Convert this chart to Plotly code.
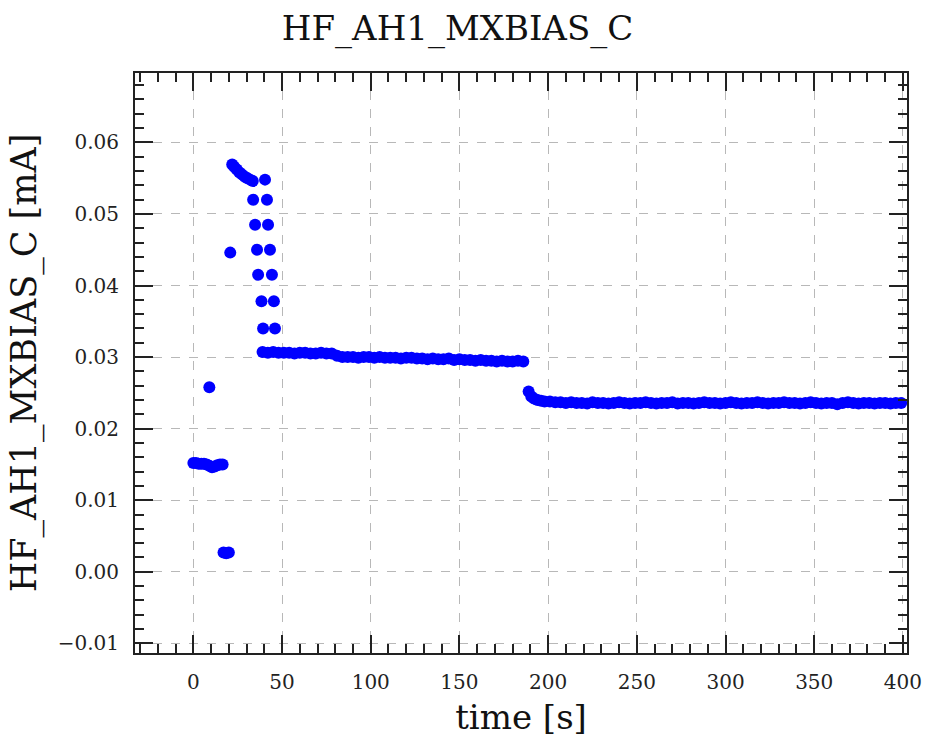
import plotly.graph_objects as go

# ---- data ----
t_init = [0, 1.5, 3, 4.5, 6, 7.5, 9, 10.5, 12, 13.5, 15, 16.5]
y_init = [0.0152, 0.0152, 0.0151, 0.0151, 0.0151, 0.0150, 0.0148, 0.0146, 0.0147, 0.0149, 0.0150, 0.0150]

t_spike = [9.0]
y_spike = [0.0258]

t_low = [17.0, 18.5, 20.0]
y_low = [0.0027, 0.0026, 0.0027]

t_rise = [20.8]
y_rise = [0.0446]

t_peak = [21.9, 23.0, 24.5, 26.0, 27.5, 29.0, 30.5, 32.0, 33.5]
y_peak = [0.0569, 0.0566, 0.0562, 0.0558, 0.0555, 0.0552, 0.0550, 0.0548, 0.0546]

t_colA = [33.7, 34.8, 35.9, 36.5, 38.4, 39.3]
y_colA = [0.0520, 0.0485, 0.0450, 0.0415, 0.0378, 0.0340]

t_colB = [40.4, 41.5, 42.1, 43.2, 44.3, 45.4, 46.0]
y_colB = [0.0548, 0.0520, 0.0485, 0.0450, 0.0415, 0.0378, 0.0340]

t_plat1 = [39, 42, 45, 48, 51, 54, 57, 60, 63, 66, 69, 72, 75, 78,
           81, 84, 87, 90, 93, 96, 99, 102, 105, 108, 111,
           114, 117, 120, 123, 126, 129, 132, 135, 138, 141, 144, 147, 150,
           153, 156, 159, 162, 165, 168, 171, 174, 177, 180, 183, 186]
y_plat1 = [0.0307, 0.0306, 0.0307, 0.0306, 0.0306, 0.0306, 0.0305, 0.0306, 0.0306, 0.0305, 0.0305, 0.0306, 0.0305, 0.0305,
           0.0302, 0.0300, 0.0300, 0.0300, 0.0299, 0.0300, 0.0300, 0.0299, 0.0300, 0.0299, 0.0299,
           0.0299, 0.0298, 0.0299, 0.0299, 0.0298, 0.0298, 0.0297, 0.0298, 0.0297, 0.0297, 0.0298, 0.0296, 0.0297,
           0.0296, 0.0296, 0.0295, 0.0296, 0.0295, 0.0295, 0.0294, 0.0295, 0.0294, 0.0294, 0.0295, 0.0294]

t_plat2 = [189, 190.5, 192, 194, 196, 198, 201,
           204, 207, 210, 213, 216, 219, 222, 225, 228, 231, 234, 237, 240, 243,
           246, 249, 252, 255, 258, 261, 264, 267, 270, 273, 276, 279, 282, 285,
           288, 291, 294, 297, 300, 303, 306, 309, 312, 315, 318, 321, 324, 327,
           330, 333, 336, 339, 342, 345, 348, 351, 354, 357, 360, 363, 366, 369,
           372, 375, 378, 381, 384, 387, 390, 393, 396, 399]
y_plat2 = [0.0252, 0.0245, 0.0242, 0.0240, 0.0239, 0.0238, 0.0238,
           0.0237, 0.0237, 0.0236, 0.0237, 0.0236,
           0.0236, 0.0235, 0.0237, 0.0236, 0.0236, 0.0235, 0.0236, 0.0237, 0.0236, 0.0235,
           0.0236, 0.0236, 0.0237, 0.0236, 0.0235, 0.0236, 0.0236, 0.0237, 0.0235, 0.0236,
           0.0236, 0.0235, 0.0236, 0.0237, 0.0236, 0.0236, 0.0235, 0.0236, 0.0237, 0.0236,
           0.0235, 0.0236, 0.0236, 0.0237, 0.0236, 0.0235, 0.0236, 0.0236, 0.0237, 0.0236,
           0.0236, 0.0235, 0.0236, 0.0237, 0.0236, 0.0235, 0.0236, 0.0236, 0.0234, 0.0236,
           0.0237, 0.0236, 0.0235, 0.0236, 0.0236, 0.0235, 0.0236, 0.0236, 0.0235, 0.0236,
           0.0236]

x_tickvals = [0, 50, 100, 150, 200, 250, 300, 350, 400]
y_tickvals = [-0.01, 0.00, 0.01, 0.02, 0.03, 0.04, 0.05, 0.06]

title_text = "HF_AH1_MXBIAS_C"
x_title = "time [s]"
y_title = "HF_AH1_MXBIAS_C [mA]"

t_all = t_init + t_spike + t_low + t_rise + t_peak + t_colA + t_colB + t_plat1 + t_plat2
y_all = y_init + y_spike + y_low + y_rise + y_peak + y_colA + y_colB + y_plat1 + y_plat2

FONT = "DejaVu Serif"
AX = "#222222"
GRID = "#b8b8b8"

fig = go.Figure()
fig.add_trace(go.Scatter(
    x=t_all, y=y_all, mode="markers",
    marker=dict(color="#0000ff", size=12, line=dict(width=0)),
    showlegend=False,
))

common = dict(
    showline=True, linecolor=AX, linewidth=2, mirror="allticks",
    ticks="inside", ticklen=18, tickwidth=2, tickcolor=AX,
    showgrid=True, gridcolor=GRID, gridwidth=1, griddash="dash",
    zeroline=False,
    tickfont=dict(family=FONT, size=20, color="#222222"),
)

fig.update_xaxes(
    range=[-32.9, 402.3], tickmode="array", tickvals=x_tickvals,
    ticktext=[str(v) for v in x_tickvals],
    minor=dict(dtick=10, tick0=0, ticks="inside", ticklen=9, tickwidth=2, tickcolor=AX, showgrid=False),
    title=dict(text=x_title, font=dict(family=FONT, size=34, color="#111111"), standoff=12),
    ticklabelstandoff=10,
    **common,
)
fig.update_yaxes(
    range=[-0.01135, 0.0697], tickmode="array", tickvals=y_tickvals,
    ticktext=[("\u2212" if v < 0 else "") + f"{abs(v):.2f}" for v in y_tickvals],
    minor=dict(dtick=0.002, tick0=0, ticks="inside", ticklen=9, tickwidth=2, tickcolor=AX, showgrid=False),
    title=dict(text=y_title, font=dict(family=FONT, size=35, color="#111111"), standoff=10),
    ticklabelstandoff=10,
    **common,
)

fig.update_layout(
    width=930, height=743,
    margin=dict(l=135, r=23, t=73, b=90, autoexpand=False),
    paper_bgcolor="white", plot_bgcolor="white",
    title=dict(text=title_text, font=dict(family=FONT, size=34, color="#111111"),
               x=0.492, xref="container", xanchor="center",
               y=1 - 28 / 743, yref="container", yanchor="middle"),
    font=dict(family=FONT),
)

fig.write_html("out.html")
